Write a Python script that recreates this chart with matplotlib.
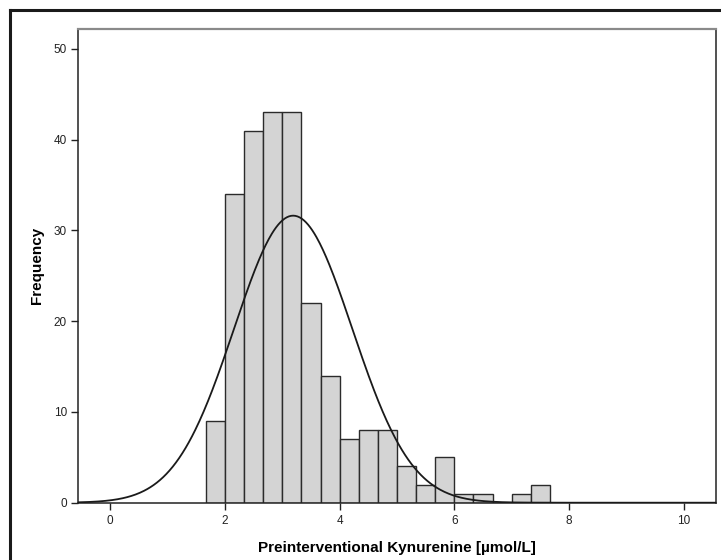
import numpy as np
import matplotlib
matplotlib.use("Agg")
import matplotlib.pyplot as plt
from matplotlib.lines import Line2D

plt.rcParams['font.family'] = ['Liberation Sans', 'DejaVu Sans']

# Data
bin_start = 5 / 3          # first bin edge (µmol/L)
bin_width = 1 / 3
counts = [9, 34, 41, 43, 43, 22, 14, 7, 8, 8, 4, 2, 5, 1, 1, 0, 1, 2]
fit_mean = 3.19
fit_sd = 1.03
x_ticks = [0, 2, 4, 6, 8, 10]
y_ticks = [0, 10, 20, 30, 40, 50]
x_label = "Preinterventional Kynurenine [µmol/L]"
y_label = "Frequency"

W, H = 721, 560
fig = plt.figure(figsize=(W / 100, H / 100), dpi=100)
ax = fig.add_axes([78 / W, 1 - 502.7 / H, (716 - 78) / W, (502.7 - 29) / H])

edges = bin_start + bin_width * np.arange(len(counts) + 1)
lefts = edges[:-1]
ax.bar(lefts, counts, width=bin_width, align='edge', color='#d4d4d4',
       edgecolor='#2b2b2b', linewidth=1.0, zorder=2)

xlim = (-0.56, 10.56)
n = sum(counts)
xs = np.linspace(xlim[0], xlim[1], 600)
ys = n * bin_width / (fit_sd * np.sqrt(2 * np.pi)) * np.exp(-0.5 * ((xs - fit_mean) / fit_sd) ** 2)
ax.plot(xs, ys, color='#1a1a1a', linewidth=1.3, zorder=3)

ax.set_xlim(*xlim)
ax.set_ylim(0, 52.2)
ax.set_xticks(x_ticks)
ax.set_yticks(y_ticks)
ax.tick_params(axis='both', direction='out', length=5, width=1, labelsize=8.5,
               colors='#222222', pad=3)
ax.tick_params(axis='x', pad=4)

ax.set_xlabel(x_label, fontsize=11, fontweight='bold', labelpad=10)
ax.set_ylabel(y_label, fontsize=11, fontweight='bold')
ax.yaxis.set_label_coords(-0.053, 0.5)

for side in ['left', 'bottom', 'right']:
    ax.spines[side].set_color('#222222')
    ax.spines[side].set_linewidth(1.1)
ax.spines['top'].set_color('#8a8a8a')
ax.spines['top'].set_linewidth(1.6)

# outer frame (only top and left visible in the crop)
fig.add_artist(Line2D([10 / W, 1], [1 - 10 / H, 1 - 10 / H], transform=fig.transFigure,
                      color='#1a1a1a', linewidth=2.2))
fig.add_artist(Line2D([10 / W, 10 / W], [0, 1 - 10 / H], transform=fig.transFigure,
                      color='#1a1a1a', linewidth=2.2))

fig.savefig("out.png", dpi=100)
